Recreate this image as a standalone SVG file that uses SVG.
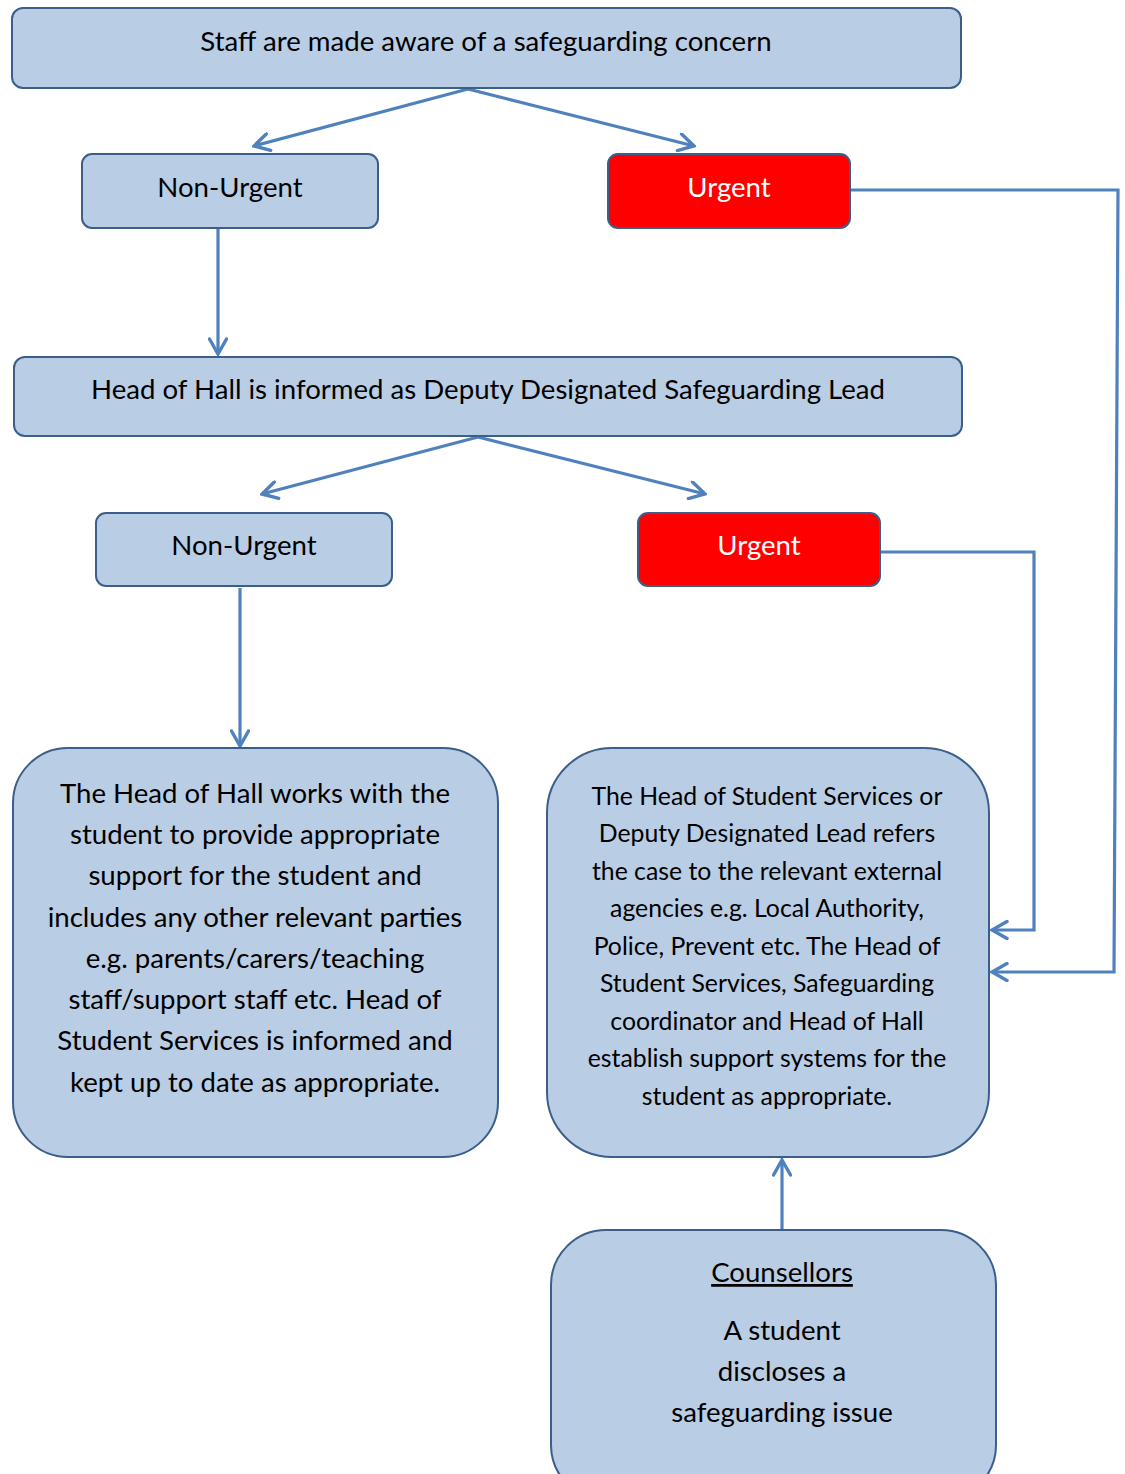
<svg xmlns="http://www.w3.org/2000/svg" width="1125" height="1474" viewBox="0 0 1125 1474">
<style>
.box{fill:#B9CDE5;stroke:#3A5F8B;stroke-width:2}
.red{fill:#FF0000;stroke:#3A5F8B;stroke-width:2}
.t{font-family:Lato,"Open Sans",sans-serif;font-size:27.6px;fill:#000;text-anchor:middle}
.s{font-size:24.8px}
.w{fill:#fff}
.c{fill:none;stroke:#4F81BD;stroke-width:3.2}
</style>
<defs>
<marker id="ah" viewBox="0 0 20 20" refX="18" refY="10" markerWidth="20" markerHeight="20" markerUnits="userSpaceOnUse" orient="auto">
<path d="M3,1.5 L18,10 L3,18.5" fill="none" stroke="#4F81BD" stroke-width="3.4" stroke-linecap="round"/>
</marker>
</defs>
<rect width="1125" height="1474" fill="#fff"/>
<g id="connectors">
<line class="c" x1="468" y1="89" x2="254" y2="146" marker-end="url(#ah)"/>
<line class="c" x1="468" y1="89" x2="694" y2="146" marker-end="url(#ah)"/>
<line class="c" x1="218" y1="229" x2="218" y2="354" marker-end="url(#ah)"/>
<polyline class="c" points="851,190 1118,190 1114,972 992,972" marker-end="url(#ah)"/>
<line class="c" x1="478" y1="437" x2="262" y2="494" marker-end="url(#ah)"/>
<line class="c" x1="478" y1="437" x2="705" y2="494" marker-end="url(#ah)"/>
<line class="c" x1="240" y1="588" x2="240" y2="746" marker-end="url(#ah)"/>
<polyline class="c" points="881,552 1034,552 1034,930 992,930" marker-end="url(#ah)"/>
<line class="c" x1="782" y1="1229" x2="782" y2="1160" marker-end="url(#ah)"/>
</g>
<g id="n1"><rect class="box" x="12" y="8" width="949" height="80" rx="11"/><text class="t" x="486" y="51">Staff are made aware of a safeguarding concern</text></g>
<g id="n2"><rect class="box" x="82" y="154" width="296" height="74" rx="10"/><text class="t" x="230" y="197">Non-Urgent</text></g>
<g id="n3"><rect class="red" x="608" y="154" width="242" height="74" rx="10"/><text class="t w" x="729" y="197">Urgent</text></g>
<g id="n4"><rect class="box" x="14" y="357" width="948" height="79" rx="11"/><text class="t" x="488" y="399">Head of Hall is informed as Deputy Designated Safeguarding Lead</text></g>
<g id="n5"><rect class="box" x="96" y="513" width="296" height="73" rx="10"/><text class="t" x="244" y="555">Non-Urgent</text></g>
<g id="n6"><rect class="red" x="638" y="513" width="242" height="73" rx="10"/><text class="t w" x="759" y="555">Urgent</text></g>
<g id="n7"><rect class="box" x="13" y="748" width="485" height="409" rx="55"/>
<text class="t" x="255"><tspan x="255" y="803">The Head of Hall works with the</tspan><tspan x="255" y="844">student to provide appropriate</tspan><tspan x="255" y="885">support for the student and</tspan><tspan x="255" y="927">includes any other relevant parties</tspan><tspan x="255" y="968">e.g. parents/carers/teaching</tspan><tspan x="255" y="1009">staff/support staff etc. Head of</tspan><tspan x="255" y="1050">Student Services is informed and</tspan><tspan x="255" y="1092">kept up to date as appropriate.</tspan></text></g>
<g id="n8"><rect class="box" x="547" y="748" width="442" height="409" rx="65"/>
<text class="t s" x="767"><tspan x="767" y="805">The Head of Student Services or</tspan><tspan x="767" y="842">Deputy Designated Lead refers</tspan><tspan x="767" y="880">the case to the relevant external</tspan><tspan x="767" y="917">agencies e.g. Local Authority,</tspan><tspan x="767" y="955">Police, Prevent etc.  The Head of</tspan><tspan x="767" y="992">Student Services, Safeguarding</tspan><tspan x="767" y="1030">coordinator and Head of Hall</tspan><tspan x="767" y="1067">establish support systems for the</tspan><tspan x="767" y="1105">student as appropriate.</tspan></text></g>
<g id="n9"><rect class="box" x="551" y="1230" width="445" height="270" rx="55"/>
<text class="t" x="782" y="1282" text-decoration="underline">Counsellors</text>
<text class="t" x="782"><tspan x="782" y="1340">A student</tspan><tspan x="782" y="1381">discloses a</tspan><tspan x="782" y="1422">safeguarding issue</tspan></text></g>
</svg>
